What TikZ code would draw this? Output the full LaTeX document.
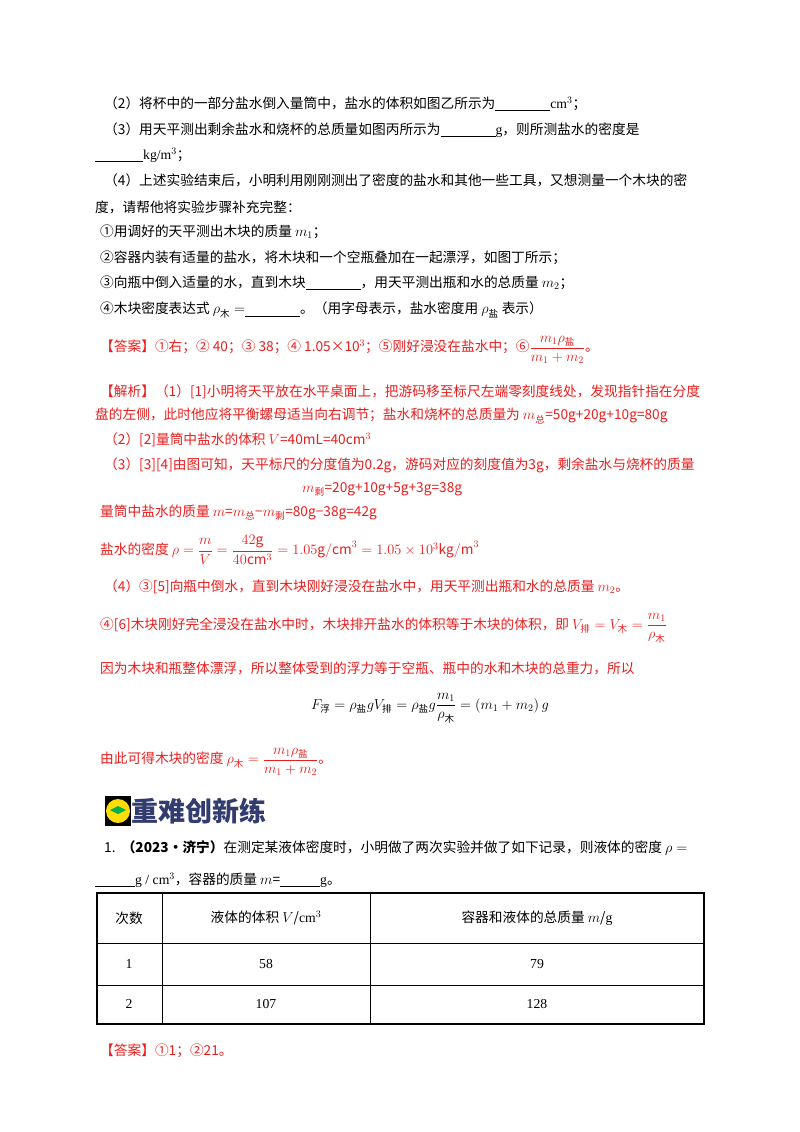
\documentclass[tikz,border=0pt]{standalone}
\usepackage{amsmath}
\usepackage{fontspec}
\setmainfont{Noto Sans CJK SC}
\newfontfamily\lat{Liberation Serif}
\definecolor{ans}{RGB}{235,30,30}
\definecolor{hd}{RGB}{50,60,110}
\begin{document}
\begin{tikzpicture}[x=1pt,y=-1pt,
  ln/.style={anchor=west,inner sep=0pt,font=\fontsize{13.7}{15}\selectfont},
  rd/.style={ln,text=ans}]
\useasboundingbox[fill=white] (0,0) rectangle (800,1132);
\node[ln] (l1) at (104,104) {（2）将杯中的一部分盐水倒入量筒中，盐水的体积如图乙所示为\underline{\hspace{55pt}}{\lat cm$^3$}；};
\node[ln] (l2) at (104,130) {（3）用天平测出剩余盐水和烧杯的总质量如图丙所示为\underline{\hspace{55pt}}{\lat g}，则所测盐水的密度是};
\node[ln] (l3) at (95,155) {\underline{\hspace{48pt}}{\lat kg/m$^3$}；};
\node[ln] (l4) at (104,180) {（4）上述实验结束后，小明利用刚刚测出了密度的盐水和其他一些工具，又想测量一个木块的密};
\node[ln] (l5) at (95,207) {度，请帮他将实验步骤补充完整：};
\node[ln] (l6) at (100,232) {①用调好的天平测出木块的质量 $m_1$；};
\node[ln] (l7) at (100,258) {②容器内装有适量的盐水，将木块和一个空瓶叠加在一起漂浮，如图丁所示；};
\node[ln] (l8) at (100,283) {③向瓶中倒入适量的水，直到木块\underline{\hspace{55pt}}，用天平测出瓶和水的总质量 $m_2$；};
\node[ln] (l9) at (100,310) {④木块密度表达式 $\rho_{\text{木}}=$\underline{\hspace{55pt}}。（用字母表示，盐水密度用 $\rho_{\text{盐}}$ 表示）};
\node[rd] (a1) at (100,350) {【答案】①右；② 40；③ 38；④ 1.05×10$^3$；⑤刚好浸没在盐水中；⑥$\dfrac{m_1\rho_{\text{盐}}}{m_1+m_2}$。};
\node[rd] (b1) at (100,392) {【解析】（1）[1]小明将天平放在水平桌面上，把游码移至标尺左端零刻度线处，发现指针指在分度};
\node[rd] (b2) at (95,416) {盘的左侧，此时他应将平衡螺母适当向右调节；盐水和烧杯的总质量为 $m_{\text{总}}$=50g+20g+10g=80g};
\node[rd] (b3) at (104,440) {（2）[2]量筒中盐水的体积 $V$=40mL=40cm$^3$};
\node[rd] (b4) at (104,465) {（3）[3][4]由图可知，天平标尺的分度值为0.2g，游码对应的刻度值为3g，剩余盐水与烧杯的质量};
\node[rd] (b5) at (302,489) {$m_{\text{剩}}$=20g+10g+5g+3g=38g};
\node[rd] (b6) at (100,513) {量筒中盐水的质量 $m$=$m_{\text{总}}$−$m_{\text{剩}}$=80g−38g=42g};
\node[rd] (b7) at (100,550) {盐水的密度 $\rho=\dfrac{m}{V}=\dfrac{42\mathrm{g}}{40\mathrm{cm}^3}=1.05\mathrm{g/cm}^3=1.05\times10^3\mathrm{kg/m}^3$};
\node[rd] (b8) at (104,587) {（4）③[5]向瓶中倒水，直到木块刚好浸没在盐水中，用天平测出瓶和水的总质量 $m_2$。};
\node[rd] (b9) at (100,628) {④[6]木块刚好完全浸没在盐水中时，木块排开盐水的体积等于木块的体积，即 $V_{\text{排}}=V_{\text{木}}=\dfrac{m_1}{\rho_{\text{木}}}$};
\node[rd] (b10) at (100,668) {因为木块和瓶整体漂浮，所以整体受到的浮力等于空瓶、瓶中的水和木块的总重力，所以};
\node[ln,anchor=center] (b11) at (430,708) {$F_{\text{浮}}=\rho_{\text{盐}}gV_{\text{排}}=\rho_{\text{盐}}g\dfrac{m_1}{\rho_{\text{木}}}=\left(m_1+m_2\right)g$};
\node[rd] (b12) at (100,762) {由此可得木块的密度 $\rho_{\text{木}}=\dfrac{m_1\rho_{\text{盐}}}{m_1+m_2}$。};
\node[fill=black,minimum width=26pt,minimum height=30pt,inner sep=0pt] (ic) at (118,811) {};
\node[circle,fill=yellow!80!orange,minimum size=24pt,inner sep=0pt] (ic2) at (ic) {};
\fill[green!40!teal] (ic2.center) ++(-8,-1) -- ++(8,-4) -- ++(8,4) -- ++(-8,4) -- cycle;
\node[anchor=west,inner sep=0pt,text=hd,font=\fontsize{27}{30}\selectfont\bfseries] (hdr) at (ic.east) {重难创新练};
\node[ln] (q1) at (104,848) {1.\ \ {\bfseries（2023·济宁）}在测定某液体密度时，小明做了两次实验并做了如下记录，则液体的密度 $\rho=$};
\node[ln] (q2) at (95,880) {\underline{\hspace{40pt}}{\lat g / cm$^3$}，容器的质量 $m$=\underline{\hspace{40pt}}{\lat g}。};
\draw[line width=1.2pt] (97,893) rectangle (704,1024);
\draw[line width=1pt] (97,943) -- (704,943) (97,985) -- (704,985) (162,893) -- (162,1024) (370,893) -- (370,1024);
\node[ln,anchor=center] (t1) at (129,918) {次数};
\node[ln,anchor=center] (t2) at (266,918) {液体的体积 $V$/{\lat cm$^3$}};
\node[ln,anchor=center] (t3) at (537,918) {容器和液体的总质量 $m$/{\lat g}};
\node[ln,anchor=center] (t4) at (129,964) {\lat 1};
\node[ln,anchor=center] (t5) at (266,964) {\lat 58};
\node[ln,anchor=center] (t6) at (537,964) {\lat 79};
\node[ln,anchor=center] (t7) at (129,1004) {\lat 2};
\node[ln,anchor=center] (t8) at (266,1004) {\lat 107};
\node[ln,anchor=center] (t9) at (537,1004) {\lat 128};
\node[rd] (a2) at (100,1051) {【答案】①1；②21。};
\end{tikzpicture}
\end{document}
